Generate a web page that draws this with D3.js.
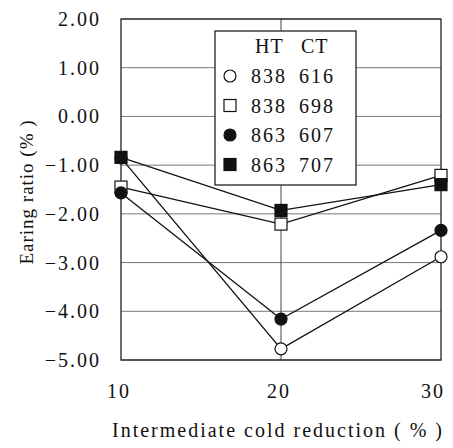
<!DOCTYPE html>
<html>
<head>
<meta charset="utf-8">
<script src="https://cdnjs.cloudflare.com/ajax/libs/d3/7.8.5/d3.min.js"></script>
<style>
  body { margin: 0; background: #fff; }
  text { font-family: "Liberation Serif", "Times New Roman", serif; fill: #111; }
</style>
</head>
<body>
<div id="chart"></div>
<script>
// data
var reductions = [10, 20, 30];
var seriesHT = ["838", "838", "863", "863"];
var seriesCT = ["616", "698", "607", "707"];
var seriesShape = ["circle", "square", "circle", "square"];
var seriesFilled = [false, false, true, true];
var earing_838_616 = [-0.85, -4.77, -2.88];
var earing_838_698 = [-1.45, -2.21, -1.21];
var earing_863_607 = [-1.57, -4.16, -2.34];
var earing_863_707 = [-0.84, -1.93, -1.40];
var yTicks = [2, 1, 0, -1, -2, -3, -4, -5];

var allSeries = [earing_838_616, earing_838_698, earing_863_607, earing_863_707];

var width = 453, height = 448;
var margin = { top: 19, right: 12, bottom: 88, left: 121 };

var svg = d3.select("#chart").append("svg")
    .attr("width", width)
    .attr("height", height);

var x = d3.scaleLinear().domain([10, 30]).range([margin.left, width - margin.right]);
var y = d3.scaleLinear().domain([-5, 2]).range([height - margin.bottom, margin.top]);

// grid lines
svg.append("g").selectAll("line")
  .data(yTicks)
  .enter().append("line")
    .attr("x1", x(10)).attr("x2", x(30))
    .attr("y1", function(d) { return y(d); })
    .attr("y2", function(d) { return y(d); })
    .style("stroke", "#777")
    .style("stroke-width", 1);

svg.append("line")
    .attr("x1", x(20)).attr("x2", x(20))
    .attr("y1", y(2)).attr("y2", y(-5))
    .style("stroke", "#444").style("stroke-width", 1);

// frame
svg.append("rect")
    .attr("x", x(10)).attr("y", y(2))
    .attr("width", x(30) - x(10)).attr("height", y(-5) - y(2))
    .style("fill", "none").style("stroke", "#222").style("stroke-width", 1.3);

// y tick labels
svg.append("g").selectAll("text")
  .data(yTicks)
  .enter().append("text")
    .attr("x", 101)
    .attr("y", function(d) { return y(d); })
    .attr("dy", "0.35em")
    .attr("text-anchor", "end")
    .style("font-size", "20px")
    .style("letter-spacing", "2px")
    .text(function(d) { return d3.format(".2f")(d); });

// x tick labels
svg.append("g").selectAll("text")
  .data(reductions)
  .enter().append("text")
    .attr("x", function(d) { return Math.min(x(d) - 2, width - 20); })
    .attr("y", 398)
    .attr("text-anchor", "middle")
    .style("font-size", "20px")
    .style("letter-spacing", "2px")
    .text(function(d) { return d; });

svg.append("text")
    .attr("x", 278).attr("y", 437)
    .attr("text-anchor", "middle")
    .style("font-size", "20px")
    .style("letter-spacing", "2px")
    .text("Intermediate cold reduction ( % )");

svg.append("text")
    .attr("transform", "translate(33,192) rotate(-90)")
    .attr("text-anchor", "middle")
    .style("font-size", "19px")
    .style("letter-spacing", "1px")
    .text("Earing ratio (% )");

// lines
var line = d3.line()
    .x(function(d, i) { return x(reductions[i]); })
    .y(function(d) { return y(d); });

svg.append("g").selectAll("path")
  .data(allSeries)
  .enter().append("path")
    .attr("d", line)
    .style("fill", "none")
    .style("stroke", "#111")
    .style("stroke-width", 1.3);

function drawMarker(g, shape, filled, cx, cy) {
  if (shape === "circle") {
    g.append("circle").attr("cx", cx).attr("cy", cy).attr("r", 6)
      .style("fill", filled ? "#111" : "#fff").style("stroke", "#111").style("stroke-width", 1.2);
  } else {
    g.append("rect").attr("x", cx - 6).attr("y", cy - 6).attr("width", 12).attr("height", 12)
      .style("fill", filled ? "#111" : "#fff").style("stroke", "#111").style("stroke-width", 1.2);
  }
}

var markers = svg.append("g");
allSeries.forEach(function(s, k) {
  s.forEach(function(v, i) {
    drawMarker(markers, seriesShape[k], seriesFilled[k], x(reductions[i]), y(v));
  });
});

// legend
var leg = svg.append("g");
leg.append("rect")
    .attr("x", 215).attr("y", 31).attr("width", 141).attr("height", 154)
    .style("fill", "#fff").style("stroke", "#222").style("stroke-width", 1.3);
leg.append("text").attr("x", 255).attr("y", 53)
    .style("font-size", "20px").style("letter-spacing", "1px").text("HT");
leg.append("text").attr("x", 301).attr("y", 53)
    .style("font-size", "20px").style("letter-spacing", "1px").text("CT");
seriesHT.forEach(function(ht, k) {
  var ry = 76 + k * 29.5;
  drawMarker(leg, seriesShape[k], seriesFilled[k], 230, ry);
  leg.append("text").attr("x", 251).attr("y", ry).attr("dy", "0.35em")
    .style("font-size", "20px").style("letter-spacing", "2px").text(ht);
  leg.append("text").attr("x", 299).attr("y", ry).attr("dy", "0.35em")
    .style("font-size", "20px").style("letter-spacing", "2px").text(seriesCT[k]);
});
</script>
</body>
</html>
